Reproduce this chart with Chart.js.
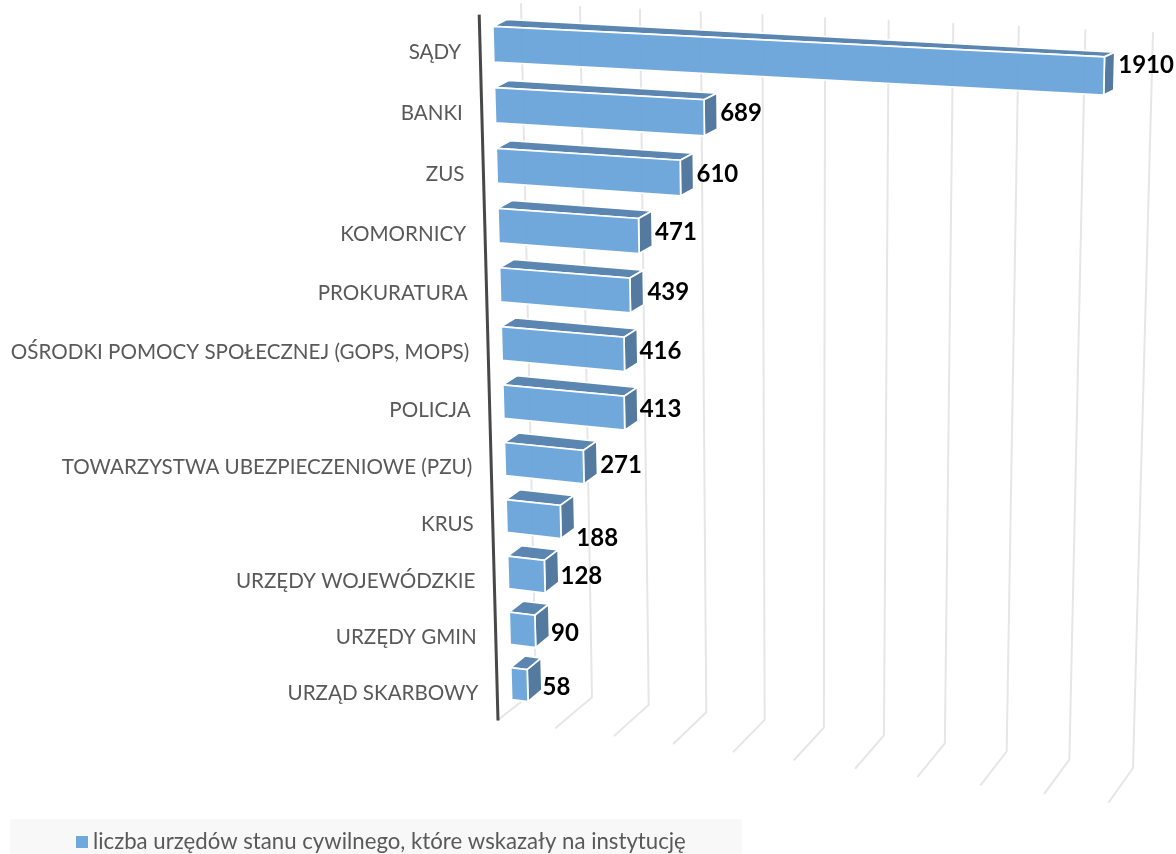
<!DOCTYPE html>
<html lang="pl"><head><meta charset="utf-8">
<style>html,body{margin:0;padding:0;background:#fff}canvas{display:block;filter:blur(0.4px)}</style>
<script src="https://cdn.jsdelivr.net/npm/chart.js@4/dist/chart.umd.min.js"></script>
</head><body><canvas id="c" width="1176" height="854"></canvas>
<script>
const categories = ["SĄDY","BANKI","ZUS","KOMORNICY","PROKURATURA","OŚRODKI POMOCY SPOŁECZNEJ (GOPS, MOPS)","POLICJA","TOWARZYSTWA UBEZPIECZENIOWE (PZU)","KRUS","URZĘDY WOJEWÓDZKIE","URZĘDY GMIN","URZĄD SKARBOWY"];
const values = [1910,689,610,471,439,416,413,271,188,128,90,58];
const gridTicks = [0,200,400,600,800,1000,1200,1400,1600,1800,2000];
const seriesName = "liczba urzędów stanu cywilnego, które wskazały na instytucję";

// view of the 3-D box: each plane maps the plot's unit square to a quad [TL,TR,BR,BL]
function homography(q){
  const [[x0,y0],[x1,y1],[x2,y2],[x3,y3]]=q;
  const dx1=x1-x2,dx2=x3-x2,sx=x0-x1+x2-x3,dy1=y1-y2,dy2=y3-y2,sy=y0-y1+y2-y3,det=dx1*dy2-dx2*dy1;
  const g=(sx*dy2-dx2*sy)/det,h=(dx1*sy-sx*dy1)/det;
  const a=x1-x0+g*x1,b=x3-x0+h*x3,d=y1-y0+g*y1,e=y3-y0+h*y3;
  return (u,v)=>{const w=g*u+h*v+1;return [(a*u+b*v+x0)/w,(d*u+e*v+y0)/w];};
}
const planeAxis = homography([[479.4,22],[1127,50],[1109,802],[498,720.5]]);
const planeFront = homography([[492.5,13.5],[1136,44.5],[1117,792],[512,711]]);
const planeBack = homography([[506.5,6.5],[1146,40],[1125,780],[526,699]]);
const planeWall = homography([[521,4],[1153,33],[1133,768],[536,690]]);
const planeFloor = homography([[536,690],[1133,768],[1109,802],[498,720]]);
// hand-placed data labels, offsets from the end of each bar
const labelNudge = [[0,-8],[-1,-1],[-1,0],[-1,0],[0,1],[-2,1],[-2,1],[-1,3],[-2,21],[-2,5],[-2,7],[-3,7]];

const FRONT='rgba(106,164,219,0.96)',SIDE='#557a9f',TOP='#5a86b1',GRID='#e6e6e6',TEXT='#595959';

function poly(ctx,pts,fill){
  ctx.beginPath();pts.forEach((p,i)=>i?ctx.lineTo(p[0],p[1]):ctx.moveTo(p[0],p[1]));ctx.closePath();
  ctx.fillStyle=fill;ctx.fill();ctx.strokeStyle='#fff';ctx.lineWidth=1.7;ctx.stroke();
}
const box3d={
  id:'box3d',
  beforeDatasetsDraw(chart){
    const {ctx,chartArea:A,scales:{x}}=chart;
    ctx.save();ctx.lineCap='round';
    ctx.strokeStyle=GRID;ctx.lineWidth=2;
    gridTicks.forEach(t=>{
      const u=(x.getPixelForValue(t)-A.left)/A.width;
      const a=planeWall(u,0),b=planeWall(u,1),c=planeFloor(u,1);
      ctx.beginPath();ctx.moveTo(a[0],a[1]);ctx.lineTo(b[0],b[1]);ctx.lineTo(c[0],c[1]);ctx.stroke();
    });
    ctx.restore();
  },
  afterDatasetsDraw(chart){
    const {ctx,chartArea:A,scales:{y}}=chart;
    const meta=chart.getDatasetMeta(0);
    ctx.save();
    meta.data.forEach((el,i)=>{
      const p=el.getProps(['x','y','base','height'],true);
      const u0=(p.base-A.left)/A.width,u1=(p.x-A.left)/A.width;
      const v0=(p.y-p.height/2-A.top)/A.height,v1=(p.y+p.height/2-A.top)/A.height;
      const f=[planeFront(u0,v0),planeFront(u1,v0),planeFront(u1,v1),planeFront(u0,v1)];
      const b=[planeBack(u0,v0),planeBack(u1,v0),planeBack(u1,v1),planeBack(u0,v1)];
      poly(ctx,[f[0],b[0],b[1],f[1]],TOP);
      poly(ctx,[f[1],b[1],b[2],f[2]],SIDE);
      poly(ctx,f,FRONT);
      const n=labelNudge[i];
      ctx.font='bold 24px Lato';ctx.fillStyle='#000';ctx.textAlign='left';ctx.textBaseline='middle';
      ctx.fillText(String(values[i]),(b[1][0]+b[2][0])/2+4+n[0],(f[1][1]+f[2][1]+b[1][1]+b[2][1])/4+n[1]);
    });
    // axis line
    const top=planeAxis(0,-0.01),bot=planeAxis(0,1);
    ctx.strokeStyle='#484848';ctx.lineWidth=3;
    ctx.beginPath();ctx.moveTo(top[0],top[1]);ctx.lineTo(bot[0],bot[1]);ctx.stroke();
    // category labels
    ctx.font='20.6px Lato';ctx.fillStyle=TEXT;ctx.textAlign='right';ctx.textBaseline='middle';
    categories.forEach((c,i)=>{
      const v=(y.getPixelForValue(i)-A.top)/A.height;
      const q=planeAxis(0,v);
      ctx.fillText(c,q[0]-19,q[1]);
    });
    // legend
    ctx.fillStyle='#f8f8f8';ctx.fillRect(10,819,732,35);
    ctx.fillStyle='#6fa8dc';ctx.fillRect(76,836,12,12);
    ctx.font='22.2px Lato';ctx.fillStyle=TEXT;ctx.textAlign='left';ctx.textBaseline='middle';
    ctx.fillText(seriesName,93,842);
    ctx.restore();
  }
};
new Chart(document.getElementById('c'),{
  type:'bar',
  data:{labels:categories,datasets:[{label:seriesName,data:values,backgroundColor:'transparent',borderWidth:0,categoryPercentage:1,barPercentage:0.58}]},
  options:{
    indexAxis:'y',responsive:false,animation:false,
    layout:{padding:0},
    plugins:{legend:{display:false},tooltip:{enabled:false}},
    scales:{x:{display:false,min:0,max:2000,grid:{display:false}},y:{display:false,grid:{display:false}}}
  },
  plugins:[box3d]
});
</script></body></html>
